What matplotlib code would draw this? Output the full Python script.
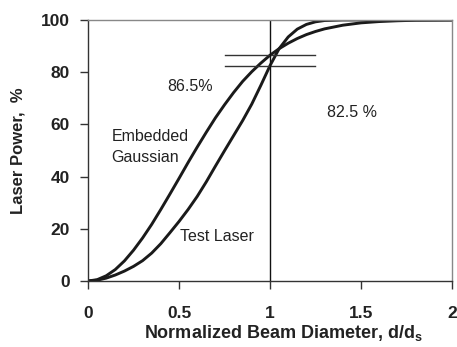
import matplotlib
matplotlib.use("Agg")
import matplotlib.pyplot as plt

plt.rcParams['font.family'] = ['Liberation Sans', 'DejaVu Sans']

gauss_x = [0, 0.05, 0.1, 0.15, 0.2, 0.25, 0.3, 0.35, 0.4, 0.45, 0.5, 0.55, 0.6, 0.65,
           0.7, 0.75, 0.8, 0.85, 0.9, 0.95, 1.0, 1.05, 1.1, 1.15, 1.2, 1.25, 1.3, 1.4,
           1.5, 1.6, 1.7, 1.8, 2.0]
gauss_y = [0, 0.5, 2, 4.4, 7.7, 11.8, 16.5, 21.7, 27.4, 33.3, 39.3, 45.4, 51.3, 57,
           62.5, 67.5, 72.2, 76.5, 80.2, 83.5, 86.5, 89, 91.1, 92.9, 94.4, 95.6, 96.6, 98,
           98.9, 99.4, 99.7, 99.9, 100]

test_x = [0, 0.05, 0.1, 0.15, 0.2, 0.25, 0.3, 0.35, 0.4, 0.45, 0.5, 0.55, 0.6, 0.65,
          0.7, 0.75, 0.8, 0.85, 0.9, 0.95, 1.0, 1.05, 1.1, 1.15, 1.2, 1.25, 1.3, 1.4,
          1.5, 2.0]
test_y = [0, 0.3, 1.1, 2.3, 3.8, 5.6, 7.8, 10.7, 14.3, 18.5, 22.8, 27.4, 32.4, 38.0,
          44.0, 49.9, 55.7, 61.5, 67.8, 75.0, 82.5, 89, 93.5, 96.5, 98.3, 99.3, 99.8, 100,
          100, 100]

ref_levels = [86.5, 82.5]
ref_x = 1.0
ref_span = [0.75, 1.25]

xticks = [0, 0.5, 1, 1.5, 2]
xtick_labels = ['0', '0.5', '1', '1.5', '2']
yticks = [0, 20, 40, 60, 80, 100]

fig = plt.figure(figsize=(4.57, 3.47), dpi=100)
ax = fig.add_axes([0.1926, 0.1902, 0.7964, 0.7522])

ax.plot(gauss_x, gauss_y, color='#1a1a1a', lw=2.1, solid_joinstyle='round')
ax.plot(test_x, test_y, color='#1a1a1a', lw=2.1, solid_joinstyle='round')

for lv in ref_levels:
    ax.plot(ref_span, [lv, lv], color='#333333', lw=1.0)
ax.axvline(ref_x, color='#111111', lw=1.0)

ax.set_xlim(0, 2)
ax.set_ylim(0, 100)
ax.set_xticks(xticks)
ax.set_xticklabels(xtick_labels)
ax.set_yticks(yticks)

ax.tick_params(axis='x', direction='out', length=6, width=1, pad=12,
               labelsize=12.5, colors='#333333', labelcolor='#222222')
ax.tick_params(axis='y', direction='out', length=6, width=1, pad=7,
               labelsize=12.5, colors='#333333', labelcolor='#222222')
for lab in ax.get_xticklabels() + ax.get_yticklabels():
    lab.set_fontweight('bold')

for s in ['left', 'bottom']:
    ax.spines[s].set_color('#333333')
    ax.spines[s].set_linewidth(1.0)
for s in ['top', 'right']:
    ax.spines[s].set_color('#888888')
    ax.spines[s].set_linewidth(1.0)

ax.set_xlabel('Normalized Beam Diameter, d/d$_\\mathregular{s}$', fontsize=13,
              fontweight='bold', color='#222222')
ax.xaxis.set_label_coords(0.536, -0.16, transform=ax.transAxes)
ax.xaxis.label.set_va('top')
ax.set_ylabel('Laser Power,  %', fontsize=12, fontweight='bold',
              color='#222222', labelpad=11)

ax.text(0.56, 74.7, '86.5%', fontsize=11.5, color='#222222', ha='center', va='center')
ax.text(1.45, 64.7, '82.5 %', fontsize=11.5, color='#222222', ha='center', va='center')
ax.text(0.13, 51.3, 'Embedded\nGaussian', fontsize=11.5, color='#222222',
        ha='left', va='center', linespacing=1.45)
ax.text(0.505, 17.2, 'Test Laser', fontsize=11.5, color='#222222', ha='left', va='center')

fig.savefig('out.png', dpi=100)
